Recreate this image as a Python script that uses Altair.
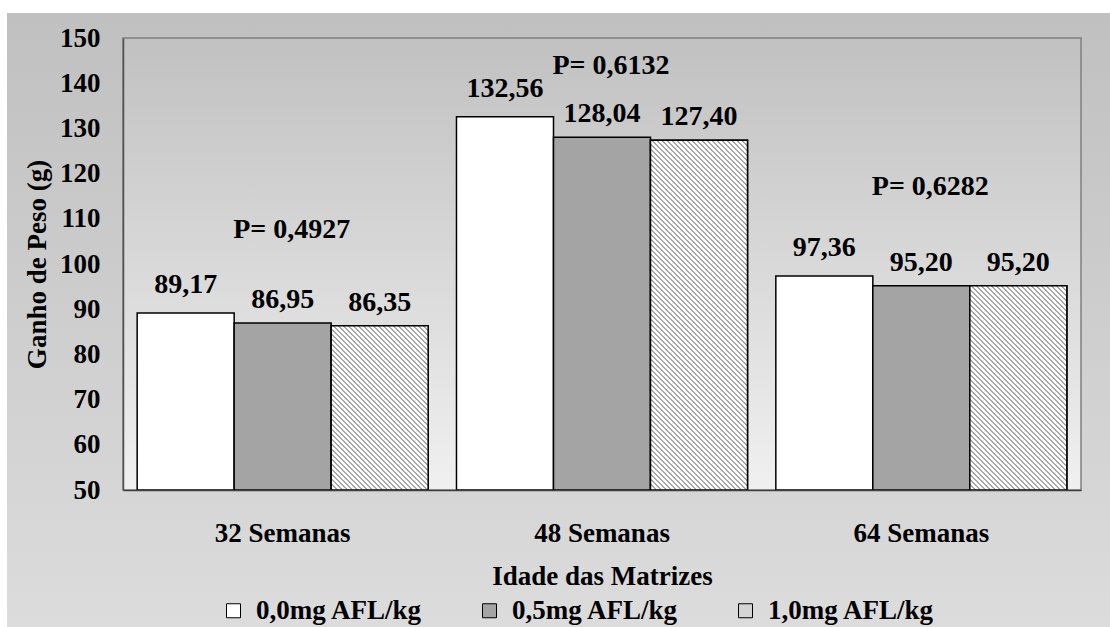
import altair as alt
import pandas as pd

# ---------------- data ----------------
groups = ["32 Semanas", "48 Semanas", "64 Semanas"]
doses = ["0,0mg AFL/kg", "0,5mg AFL/kg", "1,0mg AFL/kg"]
v_00 = [89.17, 132.56, 97.36]
v_05 = [86.95, 128.04, 95.20]
v_10 = [86.35, 127.40, 95.20]
p_text = ["P= 0,4927", "P= 0,6132", "P= 0,6282"]
p_y = [107.5, 143.8, 117.0]
y_ticks = [50, 60, 70, 80, 90, 100, 110, 120, 130, 140, 150]

# ---------------- layout ----------------
W, H = 958, 452
Y_MIN, Y_MAX = 50, 150
PAD_IN = 0.0887
FONT = "Liberation Serif"
FS = 27
FS_LBL = 28

rows = []
series = [v_00, v_05, v_10]
for gi, g in enumerate(groups):
    for di, d in enumerate(doses):
        v = series[di][gi]
        rows.append({"grupo": g, "dose": d, "di": di, "valor": v,
                     "rotulo": f"{v:.2f}".replace(".", ",")})
df = pd.DataFrame(rows)
pdf = pd.DataFrame({"grupo": groups, "dose": [doses[1]] * 3, "texto": p_text, "py": p_y})


def vgrad(c0, c1):
    return alt.LinearGradient(gradient="linear", x1=0, y1=0, x2=0, y2=1,
                              stops=[alt.GradientStop(offset=0, color=c0),
                                     alt.GradientStop(offset=1, color=c1)])


def stripes(w, h, period=5.0, frac=0.4, dark="#a8a8a8", light="#ffffff"):
    L = w + h
    k = L / (w * w + h * h)
    stops = []
    i = 0
    while i * period / L <= 1:
        t0 = i * period / L
        t1 = min((i + frac) * period / L, 1)
        t2 = min((i + 1) * period / L, 1)
        stops += [(t0, dark), (t1, dark), (t1, light), (t2, light)]
        i += 1
    return alt.LinearGradient(gradient="linear", x1=0, y1=1, x2=k * w, y2=1 - k * h,
                              stops=[alt.GradientStop(offset=o, color=c) for o, c in stops])


x_axis = alt.Axis(title="Idade das Matrizes", labelAngle=0, ticks=False, labelPadding=30,
                  titlePadding=17, domainColor="#404040", domainWidth=1.5, zindex=1,
                  labelFont=FONT, labelFontSize=FS, labelFontWeight="bold", labelColor="black",
                  titleFont=FONT, titleFontSize=FS, titleFontWeight="bold", titleColor="black")
y_axis = alt.Axis(title="Ganho de Peso (g)", values=y_ticks, grid=False, ticks=False,
                  labelPadding=23, titlePadding=8, domainColor="#505050", domainWidth=1.5,
                  zindex=1,
                  labelFont=FONT, labelFontSize=FS, labelFontWeight="bold", labelColor="black",
                  titleFont=FONT, titleFontSize=FS, titleFontWeight="bold", titleColor="black")

X = alt.X("grupo:N", sort=groups, axis=x_axis,
          scale=alt.Scale(paddingInner=PAD_IN, paddingOuter=PAD_IN / 2))
XO = alt.XOffset("dose:N", sort=doses, scale=alt.Scale(paddingInner=0, paddingOuter=0))
yscale = alt.Scale(domain=[Y_MIN, Y_MAX], nice=False, zero=False)

one = alt.Data(values=[{"a": 1}])
bg_outer = alt.Chart(one).mark_rect(fill=vgrad("#c0c0c0", "#dcdcdc")).encode(
    x=alt.value(7 - 123), x2=alt.value(1110 - 123), y=alt.value(13 - 38), y2=alt.value(627 - 38))
bg_plot = alt.Chart(one).mark_rect(fill=vgrad("#c1c1c1", "#f0f0f0"), stroke="#808080",
                                   strokeWidth=1.5).encode(
    x=alt.value(0), x2=alt.value(W), y=alt.value(0), y2=alt.value(H))

bars = alt.Chart(df).mark_bar(stroke="black", strokeWidth=1.5, fillOpacity=1).encode(
    x=X, xOffset=XO,
    y=alt.Y("valor:Q", scale=yscale, axis=y_axis), y2=alt.datum(Y_MIN),
    fill=alt.Fill("dose:N", sort=doses,
                  scale=alt.Scale(domain=doses, range=["#ffffff", "#a4a4a4", "#d4d4d4"]),
                  legend=alt.Legend(orient="none", legendX=97, legendY=559, direction="horizontal",
                                    columns=3, title=None, symbolType="square", symbolSize=196,
                                    symbolStrokeColor="black", symbolStrokeWidth=1,
                                    symbolOpacity=1, labelFont=FONT, labelFontSize=FS,
                                    labelFontWeight="bold", labelColor="black", labelLimit=0,
                                    columnPadding=53, labelOffset=9, padding=0)))

bw = W / 3 * (1 - PAD_IN) / 3
stripe_layers = []
for gi, g in enumerate(groups):
    h = (v_10[gi] - Y_MIN) * H / (Y_MAX - Y_MIN)
    stripe_layers.append(
        alt.Chart(df).transform_filter(
            (alt.datum.grupo == g) & (alt.datum.di == 2)
        ).mark_bar(fill=stripes(bw, h), stroke="black", strokeWidth=1.5).encode(
            x=X, xOffset=XO, y=alt.Y("valor:Q", scale=yscale, axis=y_axis), y2=alt.datum(Y_MIN)))

labels = alt.Chart(df).transform_calculate(
    ly="datum.valor + (datum.di == 0 ? 1.0 : 0)"
).mark_text(font=FONT, fontSize=FS_LBL, fontWeight="bold", baseline="alphabetic", dy=-15,
            color="black").encode(
    x=X, xOffset=XO, y=alt.Y("ly:Q", scale=yscale, axis=y_axis), text="rotulo:N")

plabels = alt.Chart(pdf).mark_text(font=FONT, fontSize=FS_LBL, fontWeight="bold",
                                   baseline="middle", dx=9, color="black").encode(
    x=X, xOffset=XO, y=alt.Y("py:Q", scale=yscale, axis=y_axis), text="texto:N")

chart = alt.layer(bg_outer, bg_plot, bars, *stripe_layers, labels, plabels).properties(
    width=W, height=H,
    padding={"left": 123, "top": 38, "right": 29, "bottom": 137},
    autosize=alt.AutoSizeParams(type="none"),
    background="white",
).configure_view(strokeWidth=0)

chart.save("out.html", embed_options={"renderer": "svg", "actions": False})
